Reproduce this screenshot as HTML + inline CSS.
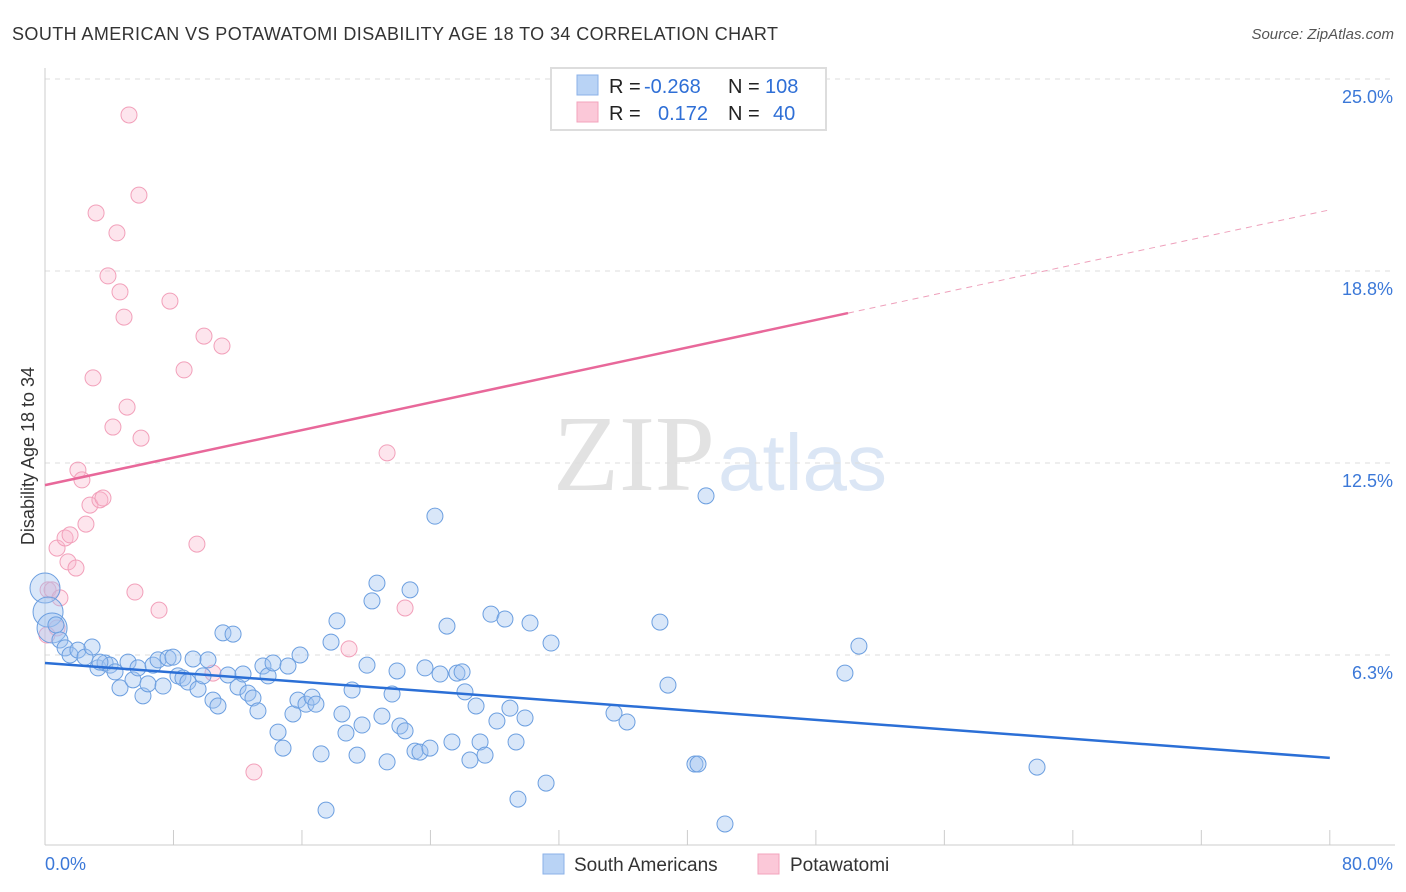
<!DOCTYPE html>
<html><head><meta charset="utf-8"><style>
body{margin:0;background:#fff;font-family:"Liberation Sans",sans-serif}
svg{display:block}
</style></head><body>
<svg id="c" width="1406" height="892" xmlns="http://www.w3.org/2000/svg">
<text x="12" y="40" font-size="18" fill="#333" textLength="766">SOUTH AMERICAN VS POTAWATOMI DISABILITY AGE 18 TO 34 CORRELATION CHART</text>
<text x="1394" y="39" font-size="15" fill="#555" text-anchor="end" font-style="italic">Source: ZipAtlas.com</text>
<text x="715" y="490" font-size="108" fill="#e2e2e2" text-anchor="end" font-family="Liberation Serif,serif">ZIP</text>
<text x="718" y="490" font-size="80" fill="#dbe6f5">atlas</text>
<g id="grid"></g>
<g id="axes"></g>
<g id="pts"></g>
<g id="lines"></g>
<text transform="translate(34,456) rotate(-90)" font-size="18" fill="#333" text-anchor="middle">Disability Age 18 to 34</text>
<g>
<rect x="551" y="68" width="275" height="62" fill="#fff" stroke="#ddd" stroke-width="2"/>
<rect x="577" y="75" width="21" height="20" fill="#b9d3f5" stroke="#8bb2e8"/>
<rect x="577" y="102" width="21" height="20" fill="#fbc8d8" stroke="#f3a3bc"/>
<text x="609" y="93" font-size="20" fill="#222">R = <tspan fill="#2f6fd6" x="644">-0.268</tspan><tspan x="728">N = </tspan><tspan fill="#2f6fd6" x="765">108</tspan></text>
<text x="609" y="120" font-size="20" fill="#222">R = <tspan fill="#2f6fd6" x="658">0.172</tspan><tspan x="728">N = </tspan><tspan fill="#2f6fd6" x="773">40</tspan></text>
</g>
<g>
<rect x="543" y="854" width="21" height="20" fill="#b9d3f5" stroke="#8bb2e8"/>
<text x="574" y="871" font-size="19" fill="#333">South Americans</text>
<rect x="758" y="854" width="21" height="20" fill="#fbc8d8" stroke="#f3a3bc"/>
<text x="790" y="871" font-size="19" fill="#333">Potawatomi</text>
</g>
</svg>
<script>
const blueX=[0,0.19,0.44,0.93,1.25,1.56,2.05,2.49,2.93,3.30,3.74,4.05,4.36,4.67,5.17,5.48,5.79,6.10,6.41,6.73,7.04,7.35,7.66,7.97,8.28,8.59,8.90,9.22,9.53,9.84,10.15,10.46,10.77,11.08,11.39,11.71,12.02,12.33,12.64,12.95,13.26,13.57,13.89,14.20,14.51,14.82,15.13,15.44,15.75,15.88,16.25,16.63,16.87,17.19,17.50,17.81,18.18,18.49,18.74,19.12,19.43,19.74,20.05,20.36,20.67,20.98,21.30,21.61,21.92,22.10,22.42,22.73,23.04,23.35,23.66,23.97,24.28,24.60,25.03,25.34,25.65,25.97,26.15,26.46,26.84,27.09,27.40,27.77,28.14,28.64,28.95,29.33,29.45,29.89,30.20,31.20,31.51,35.43,36.24,38.29,38.79,40.47,40.66,41.16,42.34,49.81,50.68,61.77,0.68,3.42];
const blueY=[8.43,7.65,7.13,6.74,6.48,6.25,6.41,6.18,6.51,5.83,5.99,5.92,5.70,5.18,6.02,5.44,5.83,4.92,5.31,5.92,6.09,5.24,6.15,6.18,5.57,5.50,5.37,6.12,5.14,5.57,6.09,4.78,4.59,6.97,5.60,6.93,5.21,5.63,5.01,4.85,4.43,5.89,5.57,5.99,3.74,3.22,5.89,4.33,4.78,6.25,4.65,4.88,4.65,3.03,1.20,6.67,7.36,4.33,3.71,5.11,2.99,3.97,5.92,8.01,8.59,4.26,2.77,4.98,5.73,3.94,3.78,8.37,3.12,3.09,5.83,3.22,10.77,5.63,7.19,3.42,5.66,5.70,5.05,2.83,4.59,3.42,2.99,7.58,4.10,7.42,4.52,3.42,1.56,4.20,7.29,2.08,6.64,4.36,4.07,7.32,5.27,2.70,2.70,11.43,0.75,5.66,6.54,2.60,7.23,6.02];
const blueBig=[0,1,2];
const pinkX=[0.19,0.44,0.75,0.93,0.75,1.25,1.56,1.43,1.93,2.05,2.30,2.55,2.80,3.42,3.61,2.99,3.18,3.92,4.23,4.48,4.67,4.92,5.11,5.23,5.60,5.85,5.98,7.10,7.78,8.66,9.46,9.90,10.46,11.02,13.01,18.93,21.30,22.42,0.12];
const pinkY=[8.37,8.37,7.13,8.11,9.73,10.06,10.16,9.28,9.08,12.27,11.95,10.51,11.13,11.30,11.36,15.27,20.64,18.59,13.67,19.99,18.07,17.25,14.32,23.83,8.30,21.22,13.31,7.71,17.77,15.53,9.86,16.63,5.66,16.31,2.44,6.45,12.83,7.78,6.90];
const blueTrend=[5.99,-0.0386];
const pinkTrend=[11.78,0.112];
const yTicks=[6.25,12.5,18.75,25];
const yTickLabels=["6.3%","12.5%","18.8%","25.0%"];
const xTicks=[0,8,16,24,32,40,48,56,64,72,80];
const NS="http://www.w3.org/2000/svg";
const sx=v=>45+v*16.06, sy=v=>847-v*30.72;
function mk(tag,at,parent){const e=document.createElementNS(NS,tag);for(const k in at)e.setAttribute(k,at[k]);document.getElementById(parent).appendChild(e);return e;}
yTicks.forEach((t,i)=>{
 const l=mk('line',{x1:45,x2:1395,y1:sy(t),y2:sy(t),stroke:'#ddd','stroke-dasharray':'5,5'},'grid');
 
 
 const tx=mk('text',{x:1393,y:sy(t)+24,'font-size':18,fill:'#3b78d8','text-anchor':'end'},'grid');tx.textContent=yTickLabels[i];
 
 
});
mk('line',{x1:45,x2:45,y1:68,y2:845,stroke:'#ccc'},'axes');
mk('line',{x1:45,x2:1395,y1:845,y2:845,stroke:'#ccc'},'axes');
xTicks.forEach(t=>{const l=mk('line',{x1:sx(t),x2:sx(t),y1:830,y2:845,stroke:'#ccc'},'axes');
 
 });
const xl0=mk('text',{x:45,y:870,'font-size':18,fill:'#3b78d8'},'axes');xl0.textContent='0.0%';


const xl1=mk('text',{x:1393,y:870,'font-size':18,fill:'#3b78d8','text-anchor':'end'},'axes');xl1.textContent='80.0%';


pinkX.forEach((x,i)=>{const c=mk('circle',{cx:sx(x),cy:sy(pinkY[i]),r:8,fill:'rgba(248,180,202,0.35)',stroke:'#f2a0ba','stroke-width':1},'pts');
 
 });
blueX.forEach((x,i)=>{const c=mk('circle',{cx:sx(x),cy:sy(blueY[i]),r:blueBig.includes(i)?15:8,fill:'rgba(160,196,240,0.4)',stroke:'#6c9fe0','stroke-width':1},'pts');
 
 });
const bl=mk('line',{x1:sx(0),y1:sy(blueTrend[0]),x2:sx(80),y2:sy(blueTrend[0]+blueTrend[1]*80),stroke:'#2b6fd6','stroke-width':2.5},'lines');


const pl=mk('line',{x1:sx(0),y1:sy(pinkTrend[0]),x2:sx(50),y2:sy(pinkTrend[0]+pinkTrend[1]*50),stroke:'#e8689a','stroke-width':2.5},'lines');


const pd=mk('line',{x1:sx(50),y1:sy(pinkTrend[0]+pinkTrend[1]*50),x2:sx(80),y2:sy(pinkTrend[0]+pinkTrend[1]*80),stroke:'#eea0bb','stroke-width':1,'stroke-dasharray':'6,5'},'lines');


</script>
</body></html>
